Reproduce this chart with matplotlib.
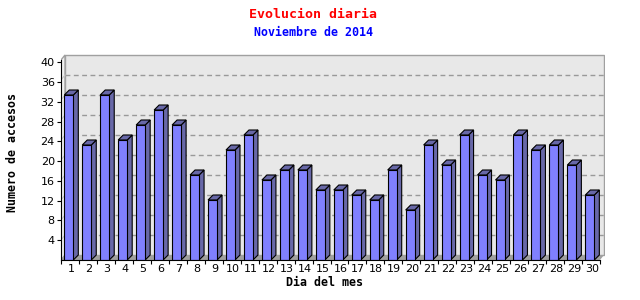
import matplotlib
matplotlib.use("Agg")
import matplotlib.pyplot as plt
from matplotlib.patches import Polygon, Rectangle

# ---- data ----
days = list(range(1, 31))
visits = [33, 23, 33, 24, 27, 30, 27, 17, 12, 22, 25, 16, 18, 18, 14,
          14, 13, 12, 18, 10, 23, 19, 25, 17, 16, 25, 22, 23, 19, 13]
yticks = [4, 8, 12, 16, 20, 24, 28, 32, 36, 40]
title = "Evolucion diaria"
subtitle = "Noviembre de 2014"
xlabel = "Dia del mes"
ylabel = "Numero de accesos"

W, H = 640, 300
fig = plt.figure(figsize=(W / 100, H / 100), dpi=100)
fig.patch.set_facecolor("white")

SLOT = 539 / 30.0        # px per category
PY = 5.0                 # px per unit
left_px, right_px, bot_px, top_px = 61, 605, 260, 54
ax = fig.add_axes([left_px / W, (H - bot_px) / H,
                   (right_px - left_px) / W, (bot_px - top_px) / H])
ax.set_xlim(0, (right_px - left_px) / SLOT)
ax.set_ylim(0, (bot_px - top_px) / PY)
ax.patch.set_visible(False)

n = len(days)
ymax = 40
wdx, wdy = 4 / SLOT, 5 / PY       # wall depth
bdx, bdy = 5 / SLOT, 5 / PY       # bar depth
wall_edge = "#a0a0a0"

# back wall
ax.add_patch(Rectangle((wdx, wdy), n, ymax, facecolor="#e8e8e8",
                       edgecolor=wall_edge, lw=1.0, zorder=0.5))
# left wall
ax.add_patch(Polygon([(0, 0), (wdx, wdy), (wdx, ymax + wdy), (0, ymax)],
                     closed=True, facecolor="#f0f0f0", edgecolor=wall_edge,
                     lw=1.0, zorder=0.6))
# gridlines
for v in yticks[:-1]:
    ax.plot([wdx, n + wdx], [v + wdy, v + wdy], color="#999999", lw=1.0,
            linestyle=(0, (3.5, 2.5)), zorder=0.8)
    ax.plot([0, wdx], [v, v + wdy], color="#c8c8c8", lw=0.8, zorder=0.8)
# floor
ax.add_patch(Polygon([(0, 0), (n, 0), (n + wdx, wdy), (wdx, wdy)],
                     closed=True, facecolor="#a0a0a0", edgecolor="none",
                     zorder=0.9))

# bars
bw = 9 / SLOT
off = 3.3 / SLOT
xs = [d - 1 + off for d in days]
front = "#8080ff"
dark = "#6868a8"
for x, v in zip(xs, visits):
    ax.add_patch(Polygon([(x + bw, 0), (x + bw + bdx, bdy),
                          (x + bw + bdx, v + bdy), (x + bw, v)],
                         closed=True, facecolor=dark, edgecolor="black",
                         lw=0.8, zorder=3))
    ax.add_patch(Polygon([(x, v), (x + bdx, v + bdy),
                          (x + bw + bdx, v + bdy), (x + bw, v)],
                         closed=True, facecolor=dark, edgecolor="black",
                         lw=0.8, zorder=3))
ax.bar(xs, visits, width=bw, align="edge", color=front, edgecolor="black",
       lw=0.8, zorder=3.2)

# spines / ticks
for s in ["top", "right"]:
    ax.spines[s].set_visible(False)
ax.spines["left"].set_bounds(0, ymax)
ax.spines["bottom"].set_bounds(0, n)
for s in ["left", "bottom"]:
    ax.spines[s].set_color("black")
    ax.spines[s].set_linewidth(0.8)
    ax.spines[s].set_zorder(4)

ax.set_yticks([v * 0.988 for v in yticks])
ax.set_yticklabels([str(v) for v in yticks])
ax.tick_params(axis="y", length=3, width=0.8, pad=1.5, labelsize=8,
               labelcolor="black")
ax.set_xticks(range(0, n + 1))
ax.set_xticklabels([])
ax.set_xticks([d - 0.45 for d in days], minor=True)
ax.set_xticklabels([str(d) for d in days], minor=True)
ax.tick_params(axis="x", which="major", length=3, width=0.8)
ax.tick_params(axis="x", which="minor", length=0, pad=3, labelsize=8)

mono = "DejaVu Sans Mono"
fig.text(313 / W, 1 - 15 / H, title, color="red", family=mono,
         fontweight="bold", fontsize=9.5, ha="center", va="center")
fig.text(313 / W, 1 - 32 / H, subtitle, color="#0000ff", family=mono,
         fontweight="bold", fontsize=8.4, ha="center", va="center")
fig.text(13 / W, 1 - 152 / H, ylabel, color="black", family=mono,
         fontweight="bold", fontsize=8.4, ha="center", va="center",
         rotation=90)
fig.text(324 / W, 1 - 282 / H, xlabel, color="black", family=mono,
         fontweight="bold", fontsize=8.4, ha="center", va="center")

fig.savefig("out.png", dpi=100)
